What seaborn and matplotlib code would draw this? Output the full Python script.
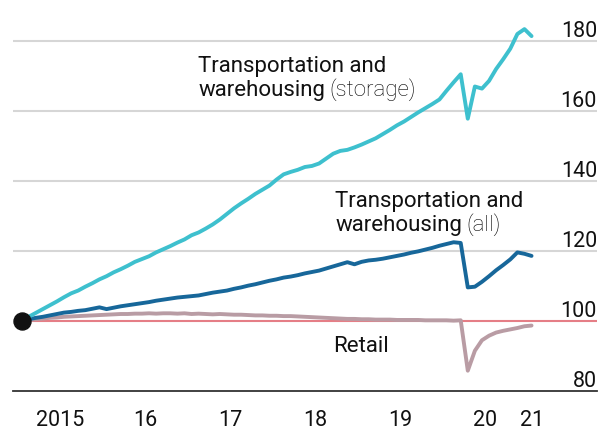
import matplotlib.pyplot as plt
import matplotlib.transforms as mtransforms
import numpy as np
import pandas as pd
import seaborn as sns

# monthly index, Jan 2015 = 100, Jan 2015 to Jan 2021
storage = [
    100.0, 101.2, 102.3, 103.4, 104.5, 105.6, 106.8, 107.9, 108.7, 109.8,
    110.8, 111.9, 112.8, 113.9, 114.8, 115.8, 116.9, 117.7, 118.5, 119.6,
    120.5, 121.4, 122.4, 123.3, 124.5, 125.3, 126.4, 127.6, 129.0, 130.6,
    132.2, 133.6, 134.9, 136.3, 137.5, 138.7, 140.4, 141.9, 142.6, 143.2,
    144.0, 144.3, 145.0, 146.4, 147.8, 148.6, 148.9, 149.6, 150.4, 151.3,
    152.2, 153.4, 154.6, 155.9, 157.0, 158.3, 159.6, 160.8, 162.0, 163.3,
    165.8, 168.2, 170.5, 157.8, 167.0, 166.4, 168.6, 172.0, 174.8, 177.8,
    182.0, 183.4, 181.4,
]
all_transport = [
    100.0, 100.5, 100.9, 101.2, 101.6, 102.0, 102.4, 102.6, 102.9, 103.1,
    103.5, 103.9, 103.4, 103.8, 104.2, 104.5, 104.8, 105.1, 105.4, 105.8,
    106.1, 106.4, 106.7, 106.9, 107.1, 107.3, 107.7, 108.1, 108.4, 108.7,
    109.2, 109.6, 110.1, 110.5, 111.0, 111.5, 111.9, 112.4, 112.7, 113.1,
    113.6, 114.0, 114.4, 115.0, 115.6, 116.2, 116.8, 116.2, 116.9, 117.3,
    117.5, 117.8, 118.2, 118.6, 119.0, 119.5, 119.9, 120.4, 120.9, 121.5,
    122.0, 122.5, 122.3, 109.6, 109.8, 111.2, 112.8, 114.5, 116.0, 117.6,
    119.6, 119.2, 118.6,
]
retail = [
    100.0, 100.3, 100.5, 100.7, 100.9, 101.0, 101.2, 101.3, 101.4, 101.5,
    101.6, 101.7, 101.8, 101.9, 102.0, 102.0, 102.1, 102.1, 102.2, 102.1,
    102.2, 102.2, 102.1, 102.2, 102.0, 102.1, 102.0, 101.9, 102.0, 101.9,
    101.8, 101.8, 101.7, 101.6, 101.6, 101.5, 101.5, 101.4, 101.4, 101.3,
    101.2, 101.1, 101.0, 100.9, 100.8, 100.7, 100.6, 100.6, 100.5, 100.5,
    100.4, 100.4, 100.4, 100.3, 100.3, 100.3, 100.3, 100.2, 100.2, 100.2,
    100.2, 100.1, 100.2, 85.8, 91.5, 94.5, 95.8, 96.7, 97.2, 97.6,
    98.0, 98.5, 98.7,
]

year_ticks = [2015, 2016, 2017, 2018, 2019, 2020, 2021]
year_labels = ["2015", "16", "17", "18", "19", "20", "21"]
y_ticks = [80, 100, 120, 140, 160, 180]

colors = {"retail": "#B99CA4", "all": "#17679A", "storage": "#3EC0CE"}

sns.set_style("white")
plt.rcParams["font.family"] = ["Roboto", "DejaVu Sans"]

months = np.arange(len(storage))
df = pd.DataFrame({
    "date": 2015 + (months + 0.5) / 12,
    "retail": retail,
    "all": all_transport,
    "storage": storage,
})
long = df.melt("date", var_name="series", value_name="index")

fig = plt.figure(figsize=(5.99, 4.31), dpi=100)
ax = fig.add_axes([13 / 599, 39 / 431, 584 / 599, 385 / 431])
ax.set_xlim(2015 - 5 / 85, 2015 + 579 / 85)
ax.set_ylim(80, 190)

for v in y_ticks[2:]:
    ax.axhline(v, color="#D6D6D6", lw=1.5, zorder=0)
x0 = df["date"].iloc[0]
lo, hi = ax.get_xlim()
ax.axhline(100, xmin=(x0 - lo) / (hi - lo), color="#E57E86", lw=1.5, zorder=1)

sns.lineplot(data=long, x="date", y="index", hue="series", palette=colors,
             hue_order=["retail", "all", "storage"], linewidth=2.8,
             legend=False, ax=ax, zorder=2)
ax.scatter([x0], [100], s=150, color="#111111", zorder=5, clip_on=False)

# axes styling
for side in ["top", "left", "right"]:
    ax.spines[side].set_visible(False)
ax.spines["bottom"].set_color("#333333")
ax.spines["bottom"].set_linewidth(1.3)
ax.set_yticks([])
ax.set_xlabel("")
ax.set_ylabel("")

ax.set_xticks(year_ticks + [2021 + 8 / 85])
ax.set_xticklabels([])
ax.tick_params(axis="x", which="major", length=7.5, width=1.3, color="#333333", direction="out")
label_pos = [y + 0.5 for y in year_ticks[:-1]] + [2021.05]
ax.set_xticks(label_pos, minor=True)
ax.set_xticklabels(year_labels, minor=True)
ax.tick_params(axis="x", which="minor", length=0, pad=13, labelsize=15.5, labelcolor="#111111")

trans = mtransforms.blended_transform_factory(ax.transAxes, ax.transData)
for v in y_ticks:
    ax.text(1.0, v, str(v), transform=trans, ha="right", va="bottom",
            fontsize=15.5, color="#111111")

# series labels
def label(x, y1, y2, main2, extra):
    ax.text(x, y1, "Transportation and", fontsize=16, color="#111111", va="baseline")
    t = ax.text(x, y2, main2, fontsize=16, color="#111111", va="baseline")
    ax.annotate(extra, xy=(1, 0), xycoords=t, xytext=(3, 0), textcoords="offset points",
                fontsize=16, fontweight="light", color="#000000", va="bottom", ha="left")

label(2017.12, 171.4, 164.5, "warehousing", "(storage)")
label(2018.73, 132.9, 126.0, "warehousing", "(all)")
ax.text(2018.71, 91.3, "Retail", fontsize=16, color="#111111", va="baseline")

fig.savefig("out.png", dpi=100)
